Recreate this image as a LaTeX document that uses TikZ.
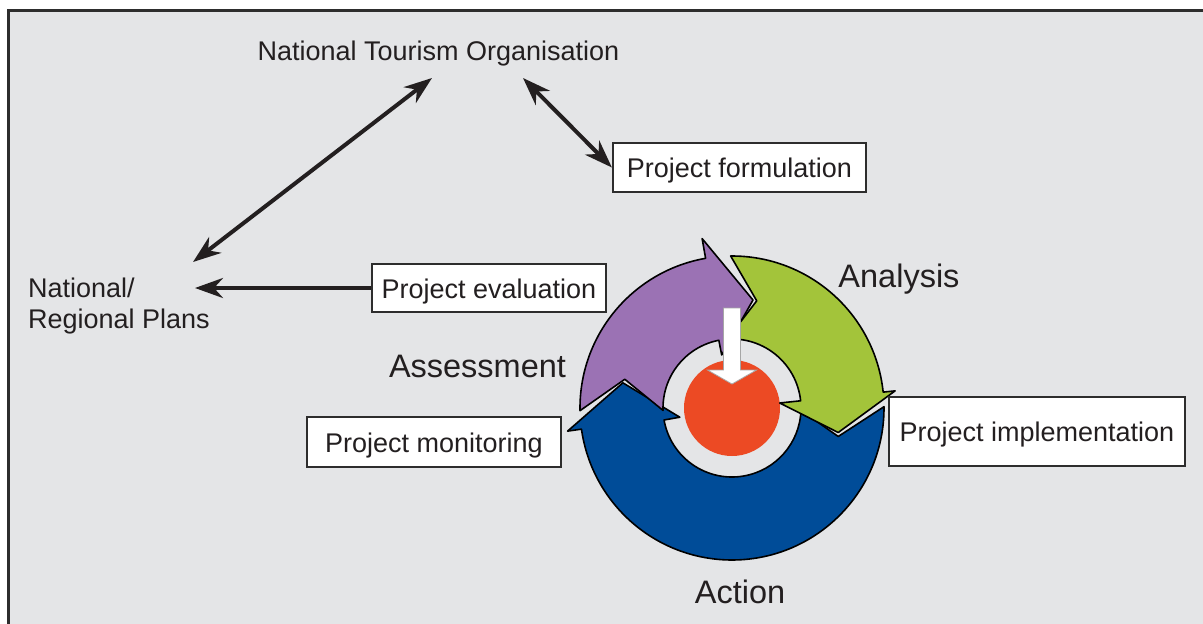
\documentclass[tikz,border=0pt]{standalone}
\usepackage{fontspec}
\setmainfont{Liberation Sans}
\usetikzlibrary{arrows.meta}
\definecolor{bg}{RGB}{228,229,231}
\definecolor{cpurple}{RGB}{155,114,180}
\definecolor{cgreen}{RGB}{163,196,58}
\definecolor{cblue}{RGB}{0,76,152}
\definecolor{cred}{RGB}{236,74,36}
\definecolor{framec}{RGB}{45,45,45}
\definecolor{txt}{RGB}{35,31,32}
\begin{document}
\begin{tikzpicture}[x=1pt,y=1pt,
 lbl/.style={font=\fontsize{27}{31}\selectfont, text=txt, inner sep=0pt},
 big/.style={font=\fontsize{32.5}{38}\selectfont, text=txt, inner sep=0pt},
 pbox/.style={draw=framec, line width=2.2pt, fill=white, font=\fontsize{27}{31}\selectfont, text=txt, inner sep=0pt, text height=20pt, text depth=0pt},
 conn/.style={line width=4pt, draw=txt, >={Stealth[length=28pt,width=20pt,inset=9pt]}},
 seg/.style={draw=black, line width=1.6pt, line join=round},
]
\useasboundingbox (0,0) rectangle (1203,-624);
\clip (0,0) rectangle (1203,-624);
\fill[bg] (8,-10) rectangle (1210,-630);
\draw[framec, line width=2.5pt] (8.5,-640) -- (8.5,-10.5) -- (1215,-10.5);

% cycle
\begin{scope}[shift={(732,-408)}]
\fill[cred] (0,0) circle (48);
\path[seg, fill=cblue] (0.5:152) arc[start angle=0.5,end angle=-172,radius=152] -- (-172:166) -- (-193:112) -- (-170:53) -- (-170:69) arc[start angle=-170,end angle=-2,radius=69] -- (-15:110) -- cycle;
\path[seg, fill=cpurple] (181:152) arc[start angle=181,end angle=100,radius=152] -- (100:172) -- (79:110) -- (101:54) -- (101:69) arc[start angle=101,end angle=182,radius=69] -- (165:111) -- cycle;
\path[seg, fill=cgreen] (90.5:152) arc[start angle=90.5,end angle=6,radius=152] -- (6:164) -- (-13:109) -- (6:48) -- (6:69) arc[start angle=6,end angle=94,radius=69] -- (77:110) -- cycle;
\path[draw=gray!70, line width=0.8pt, fill=white] (-8.5,100) -- (8.5,100) -- (8.5,38) -- (24.5,38) -- (0,24) -- (-24.5,38) -- (-8.5,38) -- cycle;
\end{scope}

% texts
\node[lbl, anchor=base] (nto) at (438.5,-60) {National Tourism Organisation};
\node[lbl, anchor=north west, align=left] (plans) at (28,-277.5) {National/\\Regional Plans};
\node[big, anchor=base] (ana) at (899,-287) {Analysis};
\node[big, anchor=base] (ass) at (477.5,-377) {Assessment};
\node[big, anchor=base] (act) at (740,-603) {Action};

% boxes
\node[pbox, minimum width=253pt, minimum height=49pt] (form) at (739.5,-167.5) {Project formulation};
\node[pbox, minimum width=234pt, minimum height=48pt] (eval) at (489,-288) {Project evaluation};
\node[pbox, minimum width=254pt, minimum height=50pt] (mon) at (434,-442) {Project monitoring};
\node[pbox, minimum width=296pt, minimum height=69pt] (impl) at (1037,-431.5) {Project implementation};

% connectors
\coordinate (pA) at (193,-262);
\coordinate (pB) at (432,-78);
\coordinate (pC) at (523,-78);
\coordinate (pD) at (195,-288);
\draw[conn, <->] (pA) -- (pB);
\draw[conn, <->] (pC) -- (form.west);
\draw[conn, ->] (eval.west) -- (pD);
\end{tikzpicture}
\end{document}
